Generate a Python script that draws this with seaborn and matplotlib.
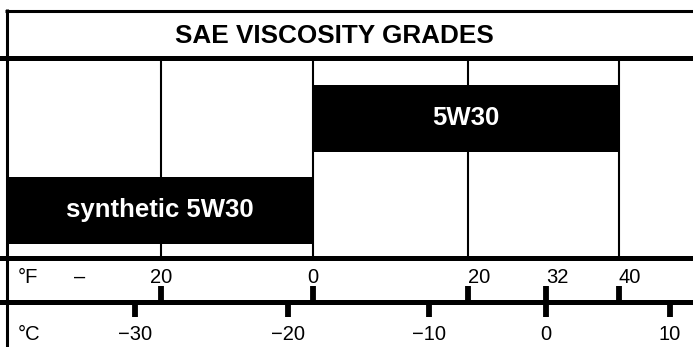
import numpy as np
import pandas as pd
import matplotlib
matplotlib.use("Agg")
import matplotlib.pyplot as plt
import seaborn as sns

# Oil grades and how far each one's range runs from the 0 °F changeover point
grades = ["5W30", "synthetic 5W30"]
limit_f = [40, -40]

# Vertical guide lines in the grade panel (°F)
grid_f = [-20, 0, 20, 40]

# Temperature scale ticks
f_ticks = [-20, 0, 20, 32, 40]
f_labels = ["20", "0", "20", "32", "40"]
c_ticks = [-30, -20, -10, 0, 10]
c_labels = ["\u221230", "\u221220", "\u221210", "0", "10"]

# The printed temperature scale is hand-spaced rather than linear:
# temperature (°F) -> fraction of the chart width
scale_f = [-41, -40, -22, -20, -4, 0, 14, 20, 32, 40, 50, 53]
scale_pos = [0.0, 0.0094, 0.1955, 0.2323, 0.4156, 0.4517, 0.6190, 0.6753,
             0.7879, 0.8925, 0.9668, 1.0]


def to_pos(f):
    return np.interp(f, scale_f, scale_pos)


def to_f(p):
    return np.interp(p, scale_pos, scale_f)


def c_to_f(c):
    return np.asarray(c) * 9 / 5 + 32


sns.set_theme(style="white")
plt.rcParams["font.family"] = ["Liberation Sans", "DejaVu Sans"]
plt.rcParams["text.color"] = "black"
plt.rcParams["axes.labelcolor"] = "black"
plt.rcParams["xtick.color"] = "black"
plt.rcParams["ytick.color"] = "black"

W, H = 693, 347
fig = plt.figure(figsize=(W / 100, H / 100), dpi=100)
fig.patch.set_facecolor("white")


def band(top_px, bottom_px):
    return [0, 1 - bottom_px / H, 1, (bottom_px - top_px) / H]


TITLE_RULE, SCALE_RULE, UNIT_RULE = 57.5, 257.5, 302.0
RULE_LW = 3.6
TICK_W = 4.2
LABEL_SIZE = 14.5


def setup_x(ax):
    ax.set_xscale("function", functions=(to_pos, to_f))
    ax.set_xlim(scale_f[0], scale_f[-1])
    for side in ["left", "right", "bottom"]:
        ax.spines[side].set_visible(False)
    ax.spines["top"].set_linewidth(RULE_LW)
    ax.spines["top"].set_color("black")
    ax.set_facecolor("none")
    ax.set_yticks([])
    ax.set_xlabel("")
    ax.set_ylabel("")


# ---- grade panel -------------------------------------------------------
ax_bars = fig.add_axes(band(TITLE_RULE, SCALE_RULE))
df = pd.DataFrame({"grade": grades, "limit_f": limit_f})
sns.barplot(data=df, x="limit_f", y="grade", orient="h", color="black",
            saturation=1, width=0.72, linewidth=0, ax=ax_bars, zorder=2)
setup_x(ax_bars)
ax_bars.set_ylim(1.511, -0.663)
ax_bars.set_xticks([])
for f in grid_f:
    ax_bars.axvline(f, color="black", lw=1.5, zorder=1)

for bar, name in zip(ax_bars.patches, grades):
    corners = ax_bars.transData.transform(bar.get_bbox().get_points())
    cx, cy = ax_bars.transAxes.inverted().transform(corners.mean(axis=0))
    ax_bars.text(cx, cy, name, transform=ax_bars.transAxes, ha="center",
                 va="center", color="white", fontsize=18.5, fontweight="bold",
                 zorder=3)

# ---- °F row --------------------------------------------------------------
ax_f = fig.add_axes(band(SCALE_RULE, UNIT_RULE))
setup_x(ax_f)
ax_f.set_ylim(0, 1)
ax_f.set_xticks(f_ticks)
ax_f.tick_params(axis="x", bottom=True, top=False, direction="in",
                 length=11.5, width=TICK_W, color="black",
                 labelbottom=False, labeltop=False)
for f, lab in zip(f_ticks, f_labels):
    ax_f.text(f, (UNIT_RULE - 283) / (UNIT_RULE - SCALE_RULE), lab,
              transform=ax_f.get_xaxis_transform(),
              ha="left" if f > 0 else "center", va="baseline",
              fontsize=LABEL_SIZE)

# ---- °C row --------------------------------------------------------------
ax_c = fig.add_axes(band(UNIT_RULE, H))
setup_x(ax_c)
ax_c.set_ylim(0, 1)
ax_c.set_xticks(c_to_f(c_ticks))
ax_c.tick_params(axis="x", top=True, bottom=False, direction="in",
                 length=10.5, width=TICK_W, color="black",
                 labelbottom=False, labeltop=False)
for c, lab in zip(c_ticks, c_labels):
    ax_c.text(c_to_f(c), (H - 340) / (H - UNIT_RULE), lab,
              transform=ax_c.get_xaxis_transform(),
              ha="center", va="baseline", fontsize=LABEL_SIZE)

# ---- frame, title and row headers ---------------------------------------
frame = fig.add_axes([0, 0, 1, 1])
frame.set_xlim(0, W)
frame.set_ylim(H, 0)
frame.axis("off")
frame.plot([5, W], [10.5, 10.5], color="black", lw=2.2,
           solid_capstyle="butt")
frame.plot([6.5, 6.5], [9, H], color="black", lw=2.2, solid_capstyle="butt")
frame.text(334, 42.7, "SAE VISCOSITY GRADES", ha="center", va="baseline",
           fontsize=18.8, fontweight="bold")
frame.text(18, 283, "\u00b0F", ha="left", va="baseline", fontsize=LABEL_SIZE)
frame.text(80, 283, "\u2013", ha="center", va="baseline", fontsize=LABEL_SIZE)
frame.text(18, 340, "\u00b0C", ha="left", va="baseline", fontsize=LABEL_SIZE)

fig.savefig("out.png", dpi=100)
